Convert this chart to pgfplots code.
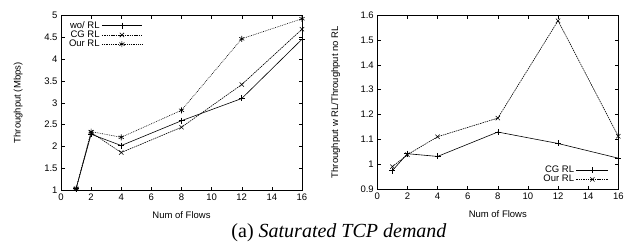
\documentclass[border=0pt]{standalone}
\usepackage{fontspec}
\setmainfont{Liberation Serif}
\setsansfont{Liberation Sans}
\usepackage{pgfplots}
\pgfplotsset{compat=1.18}
\begin{document}
\begin{tikzpicture}[x=1pt,y=1pt]
\useasboundingbox (0,0) rectangle (635,250);
\pgfplotsset{
  gp/.style={
    scale only axis,
    width=241pt, height=174.3pt,
    xmin=0, xmax=16,
    xtick={0,2,...,16},
    tick align=inside,
    major tick length=3.5pt,
    tick style={black, line width=0.5pt},
    axis line style={line width=0.6pt},
    font=\sffamily\fontsize{9.5}{10}\selectfont,
    ticklabel style={font=\sffamily\fontsize{9.5}{10}\selectfont},
    /pgf/number format/assume math mode=true,
    xlabel={Num of Flows},
    xlabel style={at={(axis description cs:0.5,-0.143)}, anchor=center},
    legend cell align=right,
    legend style={draw=none, fill=none, font=\sffamily\fontsize{9.5}{10}\selectfont, row sep=-3pt, inner sep=1pt},
    legend plot pos=right,
  },
  every axis plot/.append style={black, line width=0.6pt, mark size=3pt},
}
\begin{axis}[gp, at={(61pt,60pt)}, anchor=south west,
  ymin=1, ymax=5, ytick={1,1.5,...,5},
  yticklabel style={/pgf/number format/.cd, fixed, precision=1},
  ylabel={Throughput (Mbps)},
  ylabel style={at={(axis description cs:-0.178,0.5)}, anchor=center, rotate=0},
  legend image code/.code={
      \draw[mark repeat=2,mark phase=2,#1] plot coordinates {(0pt,0pt) (20pt,0pt) (40pt,0pt)};
  },
  legend style={at={(0.02,0.985)}, anchor=north west}]
\addplot[solid, mark=+] coordinates {(1,1.03) (2,2.28) (4,2.02) (8,2.59) (12,3.10) (16,4.46)};
\addlegendentry{wo/ RL}
\addplot[dash pattern=on 1.5pt off 0.8pt, mark=x, mark options={solid}] coordinates {(1,1.03) (2,2.32) (4,1.86) (8,2.44) (12,3.42) (16,4.69)};
\addlegendentry{CG RL}
\addplot[dash pattern=on 0.8pt off 1pt, mark=asterisk, mark options={solid}] coordinates {(1,1.03) (2,2.34) (4,2.21) (8,2.83) (12,4.47) (16,4.93)};
\addlegendentry{Our RL}
\end{axis}
\begin{axis}[gp, at={(377.3pt,60.7pt)}, anchor=south west,
  ymin=0.9, ymax=1.6, ytick={0.9,1,...,1.6},
  yticklabel style={/pgf/number format/.cd, fixed, precision=1},
  ylabel={Throughput w RL/Throughput no RL},
  ylabel style={at={(axis description cs:-0.173,0.5)}, anchor=center, rotate=0},
  legend image code/.code={
      \draw[mark repeat=2,mark phase=2,#1] plot coordinates {(0pt,0pt) (16pt,0pt) (32pt,0pt)};
  },
  legend style={at={(0.965,0.015)}, anchor=south east}]
\addplot[solid, mark=+] coordinates {(1,0.975) (2,1.043) (4,1.032) (8,1.13) (12,1.084) (16,1.025)};
\addlegendentry{CG RL}
\addplot[dash pattern=on 1.5pt off 0.8pt, mark=x, mark options={solid}] coordinates {(1,0.991) (2,1.039) (4,1.111) (8,1.186) (12,1.577) (16,1.113)};
\addlegendentry{Our RL}
\end{axis}
\node[font=\fontsize{20}{22}\selectfont] at (339,17) {(a) \textit{Saturated TCP demand}};
\end{tikzpicture}
\end{document}
